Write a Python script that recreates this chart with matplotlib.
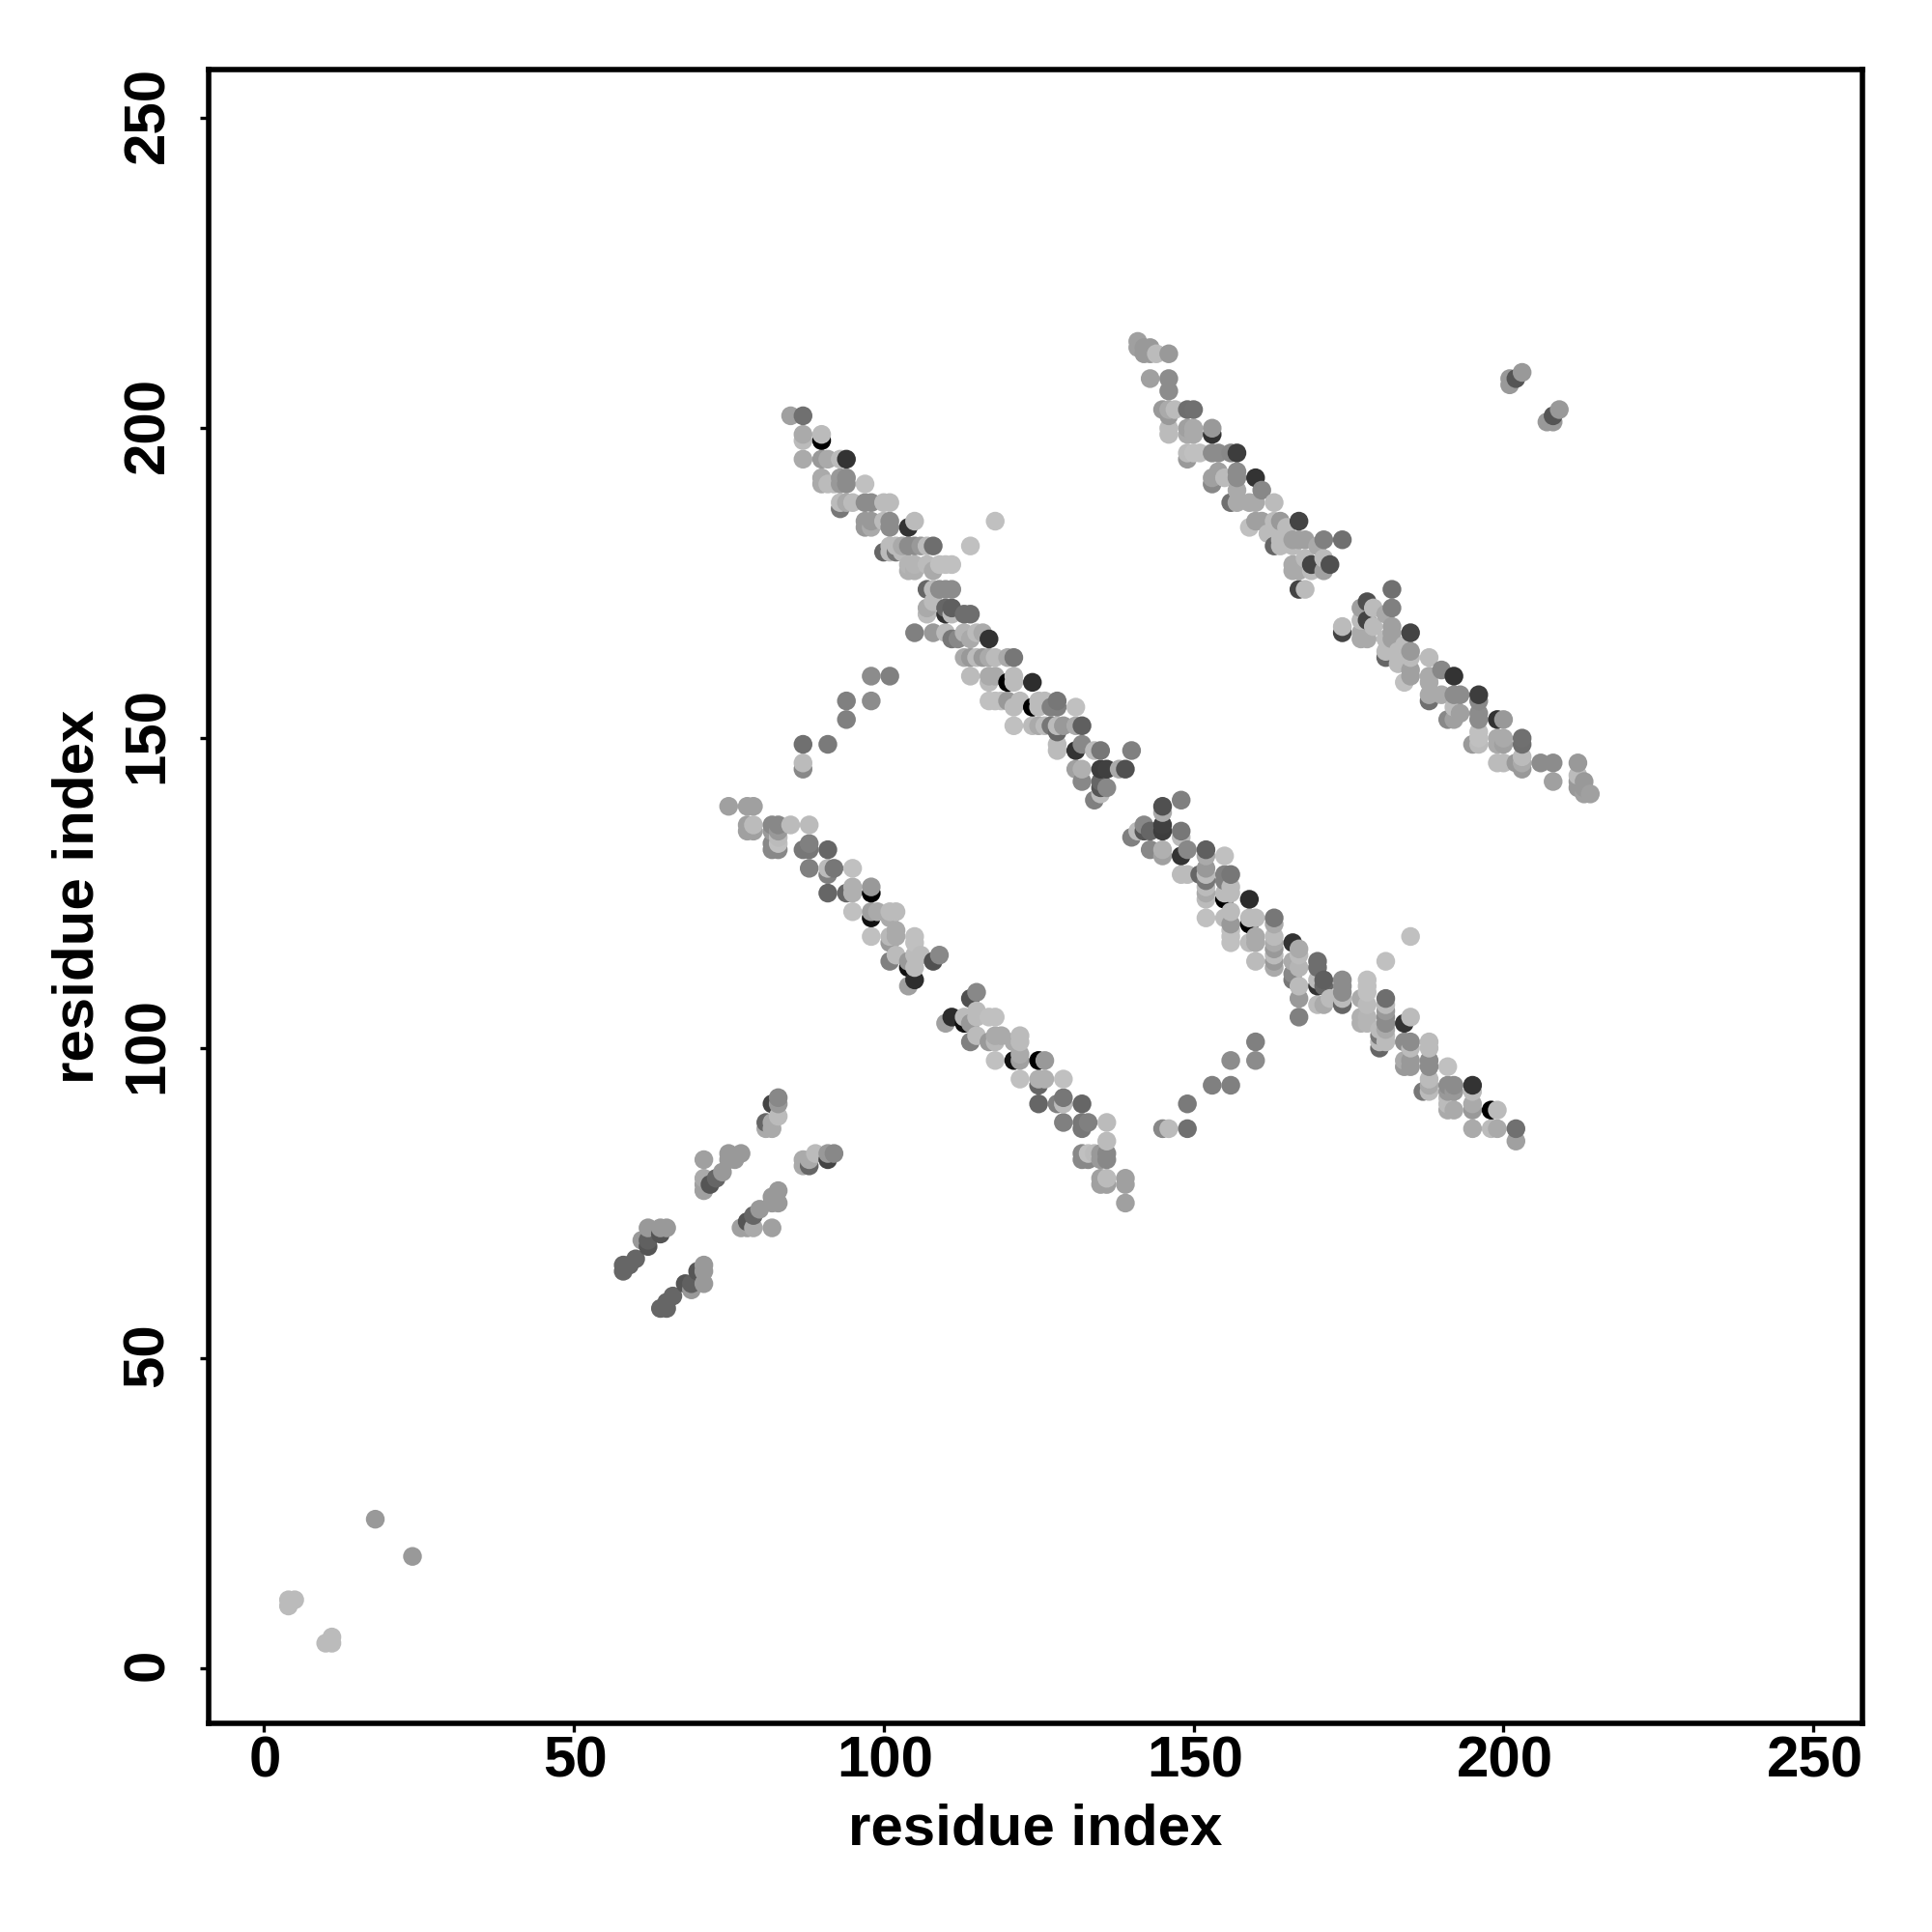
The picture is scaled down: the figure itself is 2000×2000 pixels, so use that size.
import numpy as np
import matplotlib
matplotlib.use("Agg")
import matplotlib.pyplot as plt
from matplotlib.transforms import ScaledTranslation

tick_values = [0, 50, 100, 150, 200, 250]
axis_label = "residue index"

# contacts above the diagonal as (residue i, residue j, grey level); the map is symmetric
corner = [(4,10,187),(4,11,187),(5,11,187),(18,24,153)]

arms = [(58,64,102),(58,65,102),(59,65,102),(60,66,102),(61,69,153),(62,68,85),(62,69,96),(62,71,153),
        (64,70,85),(64,71,153),(65,71,153),
        (71,77,160),(71,78,160),(71,79,170),(71,82,160),(72,78,85),(73,79,102),(74,80,153),(75,82,153),
        (75,83,153),(76,82,153),(77,83,153),
        (81,87,170),(81,88,102),(82,87,170),(82,88,170),(83,89,187),(82,91,68),(83,91,153),(83,92,136)]

band_b = [(75,139,160),(78,139,160),(79,139,160),(78,135,160),(78,136,160),(79,135,160),(79,136,187),
          (82,136,136),(83,136,136),(82,135,153),(83,135,153),(85,136,187),(88,136,187),(83,134,187),
          (82,132,136),(82,133,136),(83,132,136),(83,133,192),(87,132,119),(88,132,119),(88,133,128),(91,132,102),
          (88,129,128),(91,128,128),(91,129,187),(92,129,119),(95,129,192),
          (91,125,102),(94,125,102),(95,125,176),(95,126,176),(98,125,0),(98,126,153),
          (95,122,192),(98,121,17),(98,122,160),(99,122,170),(101,121,170),(101,122,187),(102,122,187),
          (98,118,192),(101,117,153),(101,118,184),(102,118,170),(102,119,170),(105,117,192),(105,118,192),
          (101,114,128),(102,115,187),(104,113,17),(104,114,153),(105,113,187),(105,115,187),(106,115,187),
          (108,114,80),(109,115,136),(104,110,160),(105,111,45)]

band_a = [(85,202,160),(87,202,112),(87,198,187),(87,199,170),(90,198,0),(90,199,187),
          (87,195,170),(90,195,153),(91,195,170),(93,195,187),(94,195,51),
          (90,191,170),(90,192,170),(91,191,187),(92,191,187),(93,191,153),(93,192,153),(94,191,140),(94,192,140),(97,191,192),
          (93,187,119),(93,188,187),(94,188,170),(95,188,187),(97,188,140),(98,188,140),(100,188,187),(101,188,187),
          (97,184,153),(97,185,153),(98,184,170),(98,185,153),(100,185,187),(101,184,140),(101,185,140),
          (104,184,51),(105,185,187),(118,185,192),(114,181,192),
          (100,180,102),(101,180,187),(101,181,187),(102,180,119),(102,181,187),(103,180,187),(103,181,170),
          (104,181,140),(105,181,140),(106,181,153),(107,181,187),(108,181,110),
          (104,177,176),(104,178,181),(105,177,176),(105,178,181),(107,178,187),(108,177,170),(109,178,192),(110,178,192),(111,178,192),
          (107,174,102),(108,172,187),(108,174,187),(109,174,140),(110,174,140),(111,174,140),
          (107,170,187),(107,171,170),(110,170,51),(110,171,102),(111,170,187),(111,171,95),(113,170,110),(114,170,110),
          (105,167,128),(108,167,153),(110,167,187),(111,166,119),(112,166,136),(113,167,181),(114,166,170),(115,167,187),(116,167,170),(117,166,51),
          (113,163,170),(114,163,153),(115,163,187),(116,163,153),(117,163,170),(118,163,187),(120,163,170),(121,163,119),
          (114,160,187),(117,159,187),(117,160,170),(118,160,170),(120,159,0),(121,159,187),(121,160,187),(124,159,45),
          (117,156,192),(118,156,192),(119,156,192),(120,156,153),(121,155,187),(122,156,187),
          (124,155,0),(125,155,187),(125,156,187),(126,156,187),(127,155,128),(128,155,128),(128,156,119),(131,155,192),
          (121,152,192),(124,152,187),(125,152,170),(126,152,187),(127,152,119),(128,151,102),(128,152,187),(129,152,153),(131,152,170),(132,152,95),
          (128,148,187),(128,149,187),(131,148,51),(132,149,136),(134,148,187),(135,148,119),(140,148,128),
          (131,145,160),(132,143,136),(132,145,176),(135,145,61),(136,145,64),(138,145,170),(139,145,80),
          (134,140,128),(135,141,187),(135,142,85),(135,143,102),(136,142,136),
          (98,160,140),(101,160,128),(94,156,128),(98,156,140),(94,153,128),(87,149,112),(91,149,122),(87,145,136),(87,146,187)]

band_c = [(141,213,160),(141,214,160),(142,212,153),(142,213,153),(143,212,153),(143,213,153),(144,212,187),(146,212,153),
          (143,208,160),(146,206,140),(146,208,140),
          (145,203,153),(146,202,153),(146,203,170),(147,203,187),(149,203,110),(150,203,112),
          (146,199,187),(146,200,187),(149,199,170),(149,200,160),(150,199,170),(150,200,170),(153,199,51),(153,200,153),
          (149,195,153),(149,196,187),(150,196,192),(151,196,192),(153,196,140),(154,196,140),(156,196,136),(157,196,61),
          (153,191,136),(153,192,160),(154,193,160),(155,192,187),(157,192,140),(157,193,140),(160,192,51),(161,190,136),(157,190,170),
          (156,188,112),(157,188,170),(159,188,170),(160,188,170),(163,188,187),
          (159,184,192),(160,185,160),(161,185,160),(163,185,187),(164,185,153),(165,184,187),(167,185,68),
          (162,183,187),(163,181,102),(164,181,187),(164,182,187),(164,183,187),(166,181,187),(166,182,160),(167,182,160),(168,182,160),
          (170,181,170),(171,182,128),(174,182,112),
          (166,177,170),(166,178,170),(167,177,170),(168,179,187),(169,177,187),(169,178,68),(171,177,160),(171,179,187),(172,178,80),
          (167,174,68),(168,174,187),
          (201,207,153),(201,208,153),(202,208,85),(203,209,153)]

all_contacts = np.array(corner + arms + band_b + band_a + band_c, dtype=float)
xs = np.concatenate([all_contacts[:, 0], all_contacts[:, 1]])
ys = np.concatenate([all_contacts[:, 1], all_contacts[:, 0]])
gs = np.concatenate([all_contacts[:, 2], all_contacts[:, 2]])
order = np.lexsort((ys, xs))
xs, ys, gs = xs[order], ys[order], gs[order]

plt.rcParams['font.family'] = ['Liberation Sans', 'DejaVu Sans']
plt.rcParams['font.weight'] = 'bold'

fig = plt.figure(figsize=(10, 10), dpi=200)
ax = fig.add_axes([0.108, 0.108, 0.856, 0.85615])
ax.scatter(xs, ys, s=49, c=[(g/255, g/255, g/255) for g in gs], linewidths=0, zorder=2)
ax.set_xlim(-8.88, 257.9)
ax.set_ylim(-8.93, 257.9)
ax.set_xticks(tick_values)
ax.set_yticks(tick_values)
ax.tick_params(axis='both', length=3.1, width=1.2, labelsize=21.6)
ax.tick_params(axis='x', pad=1.5)
ax.tick_params(axis='y', pad=9.5)
for lab in ax.get_yticklabels():
    lab.set_rotation(90)
    lab.set_va('center')
    lab.set_transform(lab.get_transform() + ScaledTranslation(0, 1.2/72, fig.dpi_scale_trans))
for lab in ax.get_xticklabels():
    lab.set_transform(lab.get_transform() + ScaledTranslation(0.6/72, 0, fig.dpi_scale_trans))
for s in ax.spines.values():
    s.set_linewidth(2.0)
ax.set_xlabel(axis_label, fontsize=21.6, fontweight='bold', labelpad=5.2)
ax.set_ylabel(axis_label, fontsize=21.6, fontweight='bold', labelpad=6.2)
fig.savefig("out.png", dpi=200, facecolor='white')
